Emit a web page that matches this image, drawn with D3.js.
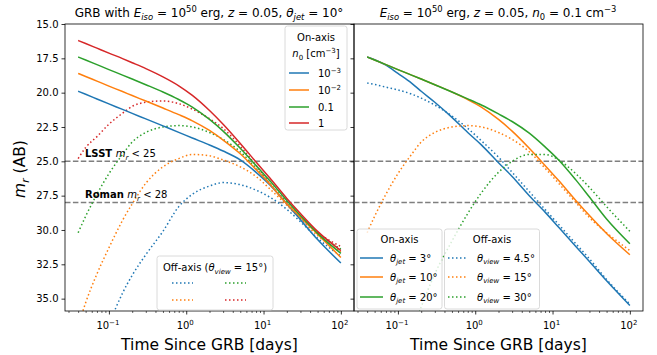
<!DOCTYPE html>
<html><head><meta charset="utf-8">
<script src="https://cdn.jsdelivr.net/npm/d3@7"></script>
<style>body{margin:0;background:#fff} svg{font-family:"DejaVu Sans",sans-serif}</style>
</head><body><svg id="c" width="657" height="355"></svg>
<script>
// ---------------- data ----------------
const times = [0.04,0.05,0.07,0.1,0.15,0.2,0.3,0.5,0.8,1.2,2,3,5,8,12,20,30,50,100];
const yTicks = [15,17.5,20,22.5,25,27.5,30,32.5,35];
const xTickExps = [-1,0,1,2];
// left panel: on-axis (theta_jet = 10 deg), different densities
const onN1e3 = [19.9,20.12,20.46,20.82,21.22,21.51,21.91,22.42,22.89,23.3,23.81,24.25,24.9,25.8,26.7,28.1,29.25,30.7,32.4];
const onN1e2 = [18.6,18.82,19.16,19.52,19.92,20.21,20.61,21.12,21.6,22.05,22.75,23.45,24.45,25.6,26.65,28.1,29.05,30.3,32.0];
const onN01  = [17.4,17.62,17.96,18.32,18.72,19.01,19.42,19.95,20.5,21.05,21.95,22.8,24.05,25.3,26.4,27.85,28.95,30.25,31.7];
const onN1   = [16.2,16.42,16.76,17.12,17.52,17.82,18.25,18.85,19.5,20.2,21.3,22.3,23.7,25.05,26.2,27.7,28.8,30.1,31.5];
// left panel: off-axis (theta_view = 15 deg)
const offN1e3 = [45,43,40,37.0,34.6,33.3,31.8,30.1,28.3,27.4,26.8,26.55,26.7,27.1,27.6,28.5,29.4,30.6,31.9];
const offN1e2 = [37.0,35.3,33.2,31.3,29.3,28.1,26.6,25.4,24.8,24.5,24.6,24.9,25.4,26.1,27.0,28.2,29.2,30.4,31.6];
const offN01  = [30.2,29.0,27.4,25.9,24.5,23.6,22.9,22.5,22.4,22.5,22.9,23.4,24.3,25.5,26.6,28.0,29.1,30.2,31.4];
const offN1   = [24.8,24.0,23.2,22.3,21.5,21.0,20.7,20.6,20.8,21.2,21.9,22.6,23.9,25.3,26.6,28.1,29.1,30.2,31.2];
// right panel: n0 = 0.1, different jet angles (on-axis) and view angles (off-axis)
const onJet3  = [17.4,17.6,18.0,18.6,19.3,19.9,20.7,21.8,22.9,23.8,25.1,26.1,27.5,28.7,29.8,31.2,32.3,33.7,35.5];
const onJet10 = [17.4,17.62,17.96,18.32,18.72,19.01,19.42,19.95,20.5,21.05,21.95,22.8,24.05,25.3,26.4,27.85,28.95,30.25,31.8];
const onJet20 = [17.4,17.62,17.96,18.32,18.72,19.01,19.42,19.95,20.45,20.9,21.55,22.1,22.95,23.95,24.9,26.35,27.6,29.2,31.0];
const offView45 = [19.3,19.4,19.6,19.8,20.1,20.4,20.9,21.7,22.6,23.5,24.7,25.8,27.2,28.5,29.6,31.0,32.1,33.6,35.4];
const offView15 = [30.2,29.0,27.4,25.9,24.5,23.6,22.9,22.5,22.4,22.5,22.9,23.4,24.3,25.5,26.6,28.0,29.1,30.2,31.5];
const offView30 = [50,47,43,40,37.5,35.6,33.2,30.8,28.8,27.3,25.8,25.0,24.5,24.5,24.9,25.9,26.9,28.3,30.1];
const limitLSST = 25, limitRoman = 28;
const colors = ["#1f77b4","#ff7f0e","#2ca02c","#d62728"];

// ---------------- layout ----------------
const svg = d3.select("#c");
const yTop = 24, yBottom = 311;
const xDomain = [Math.pow(10,-1.568), Math.pow(10,2.17)];
const xL = d3.scaleLog().domain(xDomain).range([65,354]);
const xR = d3.scaleLog().domain(xDomain).range([354,643]);
const y = d3.scaleLinear().domain([15,35.9]).range([yTop,yBottom]);

function rich(g, x, yy, parts, fs, anchor){
  const t = g.append("text").attr("x",x).attr("y",yy).attr("font-size",fs)
    .attr("text-anchor",anchor||"start").attr("fill","#000");
  let cur = 0;
  parts.forEach(p=>{
    const target = p.sub ? 0.25*fs : p.sup ? -0.4*fs : 0;
    const ts = t.append("tspan").text(p.t).attr("dy",target-cur);
    if(p.sub||p.sup) ts.attr("font-size",fs*0.7);
    if(p.i) ts.attr("font-style","italic");
    if(p.b) ts.attr("font-weight","bold");
    cur = target;
  });
  return t;
}

const defs = svg.append("defs");
[["clipL",65],["clipR",354]].forEach(([id,x0])=>{
  defs.append("clipPath").attr("id",id).append("rect")
    .attr("x",x0).attr("y",yTop).attr("width",289).attr("height",yBottom-yTop);
});

function drawPanel(x, clip, series, labelsY){
  const g = svg.append("g");
  const plot = g.append("g").attr("clip-path",`url(#${clip})`);
  [limitLSST,limitRoman].forEach(v=>{
    plot.append("line").attr("x1",x.range()[0]).attr("x2",x.range()[1])
      .attr("y1",y(v)).attr("y2",y(v)).attr("stroke","#7f7f7f")
      .attr("stroke-width",1.5).attr("stroke-dasharray","5.5,2.4");
  });
  const line = d3.line().x((d,i)=>x(times[i])).y(d=>y(d)).curve(d3.curveMonotoneX);
  series.forEach(s=>{
    plot.append("path").attr("d",line(s.v)).attr("fill","none")
      .attr("stroke",s.c).attr("stroke-width",1.5)
      .attr("stroke-dasharray",s.dot?"1.5,2.5":null);
  });
  const [x0,x1] = x.range();
  const major = xTickExps.map(e=>Math.pow(10,e));
  const minor = [];
  for(let e=-2;e<=2;e++) for(let k=2;k<=9;k++){const v=k*Math.pow(10,e); if(v>=xDomain[0]&&v<=xDomain[1]) minor.push(v);}
  g.append("g").attr("transform",`translate(0,${yBottom})`)
    .call(d3.axisBottom(x).tickValues(minor).tickSize(2).tickFormat(""))
    .call(a=>{a.select(".domain").remove(); a.selectAll("line").attr("stroke","#000").attr("stroke-width",0.6);});
  g.append("g").attr("transform",`translate(0,${yBottom})`)
    .call(d3.axisBottom(x).tickValues(major).tickSize(3.5).tickFormat(""))
    .call(a=>{a.select(".domain").remove(); a.selectAll("line").attr("stroke","#000").attr("stroke-width",0.8);});
  xTickExps.forEach(e=>{
    rich(g, x(Math.pow(10,e))-1, 329, [{t:"10"},{t:(e<0?"\u2212":"")+Math.abs(e),sup:1}], 10, "middle");
  });
  const ya = g.append("g").attr("transform",`translate(${x0},0)`)
    .call(d3.axisLeft(y).tickValues(yTicks).tickSize(3.5).tickFormat(labelsY?d3.format(".1f"):""));
  ya.select(".domain").remove();
  ya.selectAll("line").attr("stroke","#000").attr("stroke-width",0.8);
  ya.selectAll("text").attr("font-size",10).attr("font-family","DejaVu Sans").attr("fill","#000");
  g.append("rect").attr("x",x0).attr("y",yTop).attr("width",x1-x0).attr("height",yBottom-yTop)
    .attr("fill","none").attr("stroke","#000").attr("stroke-width",0.8);
  g.append("text").attr("x",(x0+x1)/2).attr("y",350).attr("text-anchor","middle")
    .attr("font-size",15.5).text("Time Since GRB [days]");
  return g;
}

drawPanel(xL,"clipL",[
  {v:offN1e3,c:colors[0],dot:1},{v:offN1e2,c:colors[1],dot:1},{v:offN01,c:colors[2],dot:1},{v:offN1,c:colors[3],dot:1},
  {v:onN1e3,c:colors[0]},{v:onN1e2,c:colors[1]},{v:onN01,c:colors[2]},{v:onN1,c:colors[3]}
], true);
drawPanel(xR,"clipR",[
  {v:onJet3,c:colors[0]},{v:onJet10,c:colors[1]},{v:onJet20,c:colors[2]},
  {v:offView45,c:colors[0],dot:1},{v:offView15,c:colors[1],dot:1},{v:offView30,c:colors[2],dot:1}
], false);

rich(svg, 85, 157, [{t:"LSST ",b:1},{t:"m",i:1},{t:"r",i:1,sub:1},{t:" < 25"}], 10, "start");
rich(svg, 85, 198, [{t:"Roman ",b:1},{t:"m",i:1},{t:"r",i:1,sub:1},{t:" < 28"}], 10, "start");

rich(svg, 209, 17, [{t:"GRB with "},{t:"E",i:1},{t:"iso",i:1,sub:1},{t:" = 10"},{t:"50",sup:1},{t:" erg, "},
  {t:"z",i:1},{t:" = 0.05, "},{t:"\u03b8",i:1},{t:"jet",i:1,sub:1},{t:" = 10\u00b0"}], 12, "middle");
rich(svg, 498, 17, [{t:"E",i:1},{t:"iso",i:1,sub:1},{t:" = 10"},{t:"50",sup:1},{t:" erg, "},
  {t:"z",i:1},{t:" = 0.05, "},{t:"n",i:1},{t:"0",sub:1},{t:" = 0.1 cm"},{t:"\u22123",sup:1}], 12, "middle");

svg.append("g").attr("transform","translate(25,169) rotate(-90)").call(g=>{
  rich(g,0,0,[{t:"m",i:1},{t:"r",i:1,sub:1},{t:" (AB)"}],15.5,"middle");
});

function box(x,y0,w,h){
  svg.append("rect").attr("x",x).attr("y",y0).attr("width",w).attr("height",h).attr("rx",2.5)
    .attr("fill","#fff").attr("fill-opacity",0.8).attr("stroke","#d0d0d0").attr("stroke-width",0.8);
}
function handle(x1,x2,yy,c,dot){
  svg.append("line").attr("x1",x1).attr("x2",x2).attr("y1",yy).attr("y2",yy).attr("stroke",c)
    .attr("stroke-width",1.5).attr("stroke-dasharray",dot?"1.5,2.5":null);
}
box(285,26,62,104);
svg.append("text").attr("x",316).attr("y",41).attr("text-anchor","middle").attr("font-size",10).text("On-axis");
rich(svg,316,57,[{t:"n",i:1},{t:"0",sub:1},{t:" [cm"},{t:"\u22123",sup:1},{t:"]"}],10,"middle");
const nLabels = [[{t:"10"},{t:"\u22123",sup:1}],[{t:"10"},{t:"\u22122",sup:1}],[{t:"0.1"}],[{t:"1"}]];
[73,90,107,123].forEach((yy,i)=>{ handle(289,309,yy,colors[i]); rich(svg,318,yy+3.5,nLabels[i],10,"start"); });
box(157,256,116,54);
rich(svg,215,271,[{t:"Off-axis ("},{t:"\u03b8",i:1},{t:"view",i:1,sub:1},{t:" = 15\u00b0)"}],10,"middle");
handle(172,193,283,colors[0],1); handle(225,246,283,colors[2],1);
handle(172,193,300,colors[1],1); handle(225,246,300,colors[3],1);
box(357,229,85,80);
svg.append("text").attr("x",399.5).attr("y",243).attr("text-anchor","middle").attr("font-size",10).text("On-axis");
const jets = ["3","10","20"], views = ["4.5","15","30"];
box(444.5,229,95,80);
svg.append("text").attr("x",492).attr("y",243).attr("text-anchor","middle").attr("font-size",10).text("Off-axis");
[258,277,297].forEach((yy,i)=>{
  handle(360,383,yy,colors[i]);
  rich(svg,390,yy+3.5,[{t:"\u03b8",i:1},{t:"jet",i:1,sub:1},{t:" = "+jets[i]+"\u00b0"}],10,"start");
  handle(448,466,yy,colors[i],1);
  rich(svg,477,yy+3.5,[{t:"\u03b8",i:1},{t:"view",i:1,sub:1},{t:" = "+views[i]+"\u00b0"}],10,"start");
});
</script></body></html>
